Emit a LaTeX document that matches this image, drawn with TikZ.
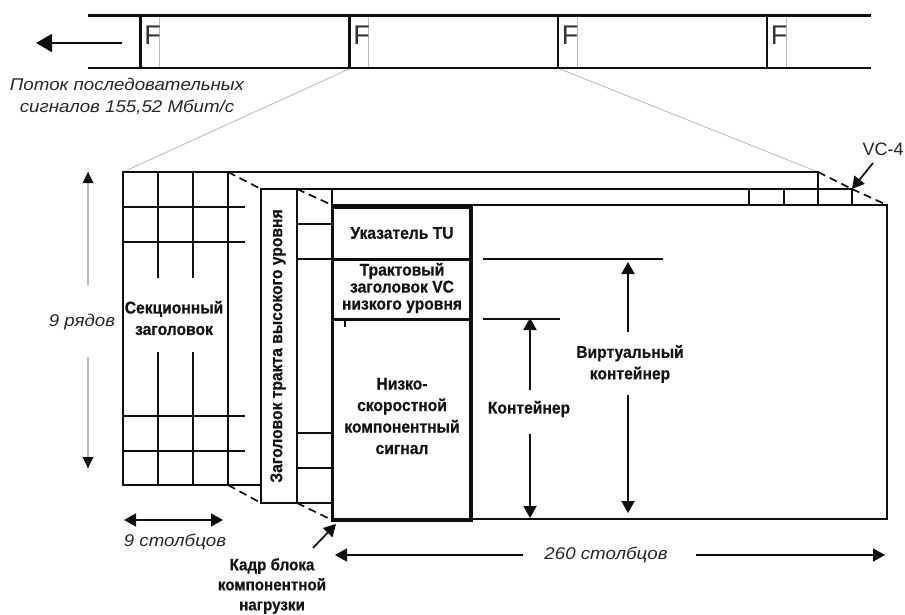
\documentclass[tikz,border=0pt]{standalone}
\usepackage{fontspec}
\setmainfont{Liberation Sans}
\newfontfamily\narrowbold[FakeStretch=0.92,BoldFeatures={FakeBold=0.6}]{Liberation Sans}
\newfontfamily\wideital[FakeStretch=1.1]{Liberation Sans}
\usetikzlibrary{arrows.meta}
\tikzset{
 ink/.style={draw=black!94,line cap=butt},
 bar/.style={ink,line width=2.8pt},
 heavy/.style={ink,line width=3.8pt},
 mid/.style={ink,line width=2.2pt},
 pale/.style={draw=black!28,line width=.8pt},
 dashline/.style={ink,line width=1.7pt,dash pattern=on 8pt off 5pt},
 tick/.style={ink,line width=1.6pt},
 one/.style={ink,line width=1.7pt,-{Triangle[length=12pt,width=13pt]}},
 dbl/.style={ink,line width=1.7pt,{Triangle[length=12pt,width=13pt]}-{Triangle[length=12pt,width=13pt]}},
 lab/.style={font=\narrowbold\fontsize{17}{21.5}\selectfont\bfseries,align=center,inner sep=0pt,text=black!92},
 ital/.style={font=\wideital\fontsize{17}{22}\selectfont\itshape,align=center,inner sep=0pt,text=black!85},
 letter/.style={font=\fontsize{27}{27}\selectfont,inner sep=0pt,text=black!80},
}
\begin{document}
\begin{tikzpicture}[x=1pt,y=-1pt]
\useasboundingbox (0,0) rectangle (905,615);
% stream
\draw[bar,line width=3.3pt] (88,15.5) -- (871,15.5);
\draw[bar,line width=2.7pt] (88,68) -- (871,68);
\foreach \a/\n in {140.5/a,349.5/b,558/c,767/d}{
  \draw[bar] (\a,15) -- (\a,68);
  \draw[pale] (\a+19,17) -- (\a+19,67);
  \node[letter] (f\n) at (\a+12,35) {F};
}
\coordinate (sa) at (122,43); \coordinate (sb) at (36,43);
\draw[ink,line width=2pt,-{Triangle[length=16pt,width=18pt]}] (sa) -- (sb);
\node[ital] (stream) at (127,96) {Поток последовательных\\сигналов 155,52 Мбит/с};
% zoom lines
\coordinate (p1) at (349,69); \coordinate (q1) at (123,172);
\coordinate (p2) at (560,69); \coordinate (q2) at (818,172);
\draw[pale] (p1) -- (q1); \draw[pale] (p2) -- (q2);
% section layer
\draw[bar] (121.5,172) -- (819,172);
\draw[bar] (123,172) -- (123,486); \draw[bar] (228,172) -- (228,486);
\draw[bar] (121.5,485) -- (262,485);
\foreach \a in {158,193}{
  \draw[mid] (\a,172) -- (\a,278);
  \draw[mid] (\a,352) -- (\a,485);
}
\foreach \b in {207,242,416,451}{\draw[mid] (123,\b) -- (245,\b);}
% HO path layer
\draw[bar] (261,188) -- (261,504); \draw[bar] (297,188) -- (297,503);
\draw[bar] (260,189) -- (853,189);
\draw[bar] (260,503) -- (333,503);
\foreach \b in {224,259,433,468}{\draw[mid] (297,\b) -- (332,\b);}
\draw[bar] (818,172) -- (818,205); \draw[bar] (852,189) -- (852,205);
\foreach \a in {332,749,784}{\draw[mid] (\a,189) -- (\a,205);}
% VC layer
\draw[bar] (332,205) -- (888,205);
\draw[bar] (887,205) -- (887,519) -- (332,519);
\draw[heavy] (331,207) -- (472,207);
\draw[heavy] (331,259.5) -- (472,259.5);
\draw[heavy] (331,319.5) -- (472,319.5);
\draw[heavy] (331,520) -- (472,520);
\draw[heavy] (332.5,205) -- (332.5,521.5);
\draw[heavy] (471,205) -- (471,521.5);
\draw[mid] (345,320) -- (345,327);
\foreach \a/\b/\c/\d in {228/172/261/189,297/189/332/205,228/485/261/503,297/503/332/520,818/172/852/189,852/189/887/205}{
  \draw[dashline] (\a,\b) -- (\c,\d);
}
% rows
\coordinate (ra) at (88,172); \coordinate (rb) at (88,468);
\coordinate (rc) at (88,285); \coordinate (rd) at (88,357);
\draw[draw=black!28,line width=1.4pt] (ra) -- (rc);
\draw[draw=black!28,line width=1.4pt] (rd) -- (rb);
\fill[black!94] (ra) -- (93.5,183) -- (82.5,183) -- cycle;
\fill[black!94] (rb) -- (93.5,457) -- (82.5,457) -- cycle;
\node[ital] (rows) at (82,322) {9 рядов};
% columns
\coordinate (ca) at (124,520); \coordinate (cb) at (223,520);
\draw[dbl] (ca) -- (cb);
\node[ital] (cols) at (175,542) {9 столбцов};
\coordinate (la) at (335,555); \coordinate (lb) at (523,555);
\coordinate (lc) at (696,555); \coordinate (ld) at (885,555);
\draw[one] (lb) -- (la); \draw[one] (lc) -- (ld);
\node[ital] (wide) at (606,555) {260 столбцов};
% levels
\draw[tick] (483,259) -- (663,259);
\draw[tick] (483,319) -- (560,319);
\coordinate (va) at (628,332); \coordinate (vb) at (628,262);
\coordinate (vc) at (628,395); \coordinate (vd) at (628,513);
\draw[one,line width=2pt] (va) -- (vb); \draw[one,line width=2pt] (vc) -- (vd);
\coordinate (ka) at (530,390); \coordinate (kb) at (530,318);
\coordinate (kc) at (530,434); \coordinate (kd) at (530,518);
\draw[one,line width=2pt] (ka) -- (kb); \draw[one,line width=2pt] (kc) -- (kd);
% labels
\node[lab] (sec) at (174,318) {Секционный\\заголовок};
\node[lab,rotate=90] (path) at (278,346) {Заголовок тракта высокого уровня};
\node[lab] (tu) at (402,233) {Указатель TU};
\node[lab,font=\narrowbold\fontsize{17}{17}\selectfont\bfseries] (poh) at (402,288) {Трактовый\\заголовок VC\\низкого уровня};
\node[lab] (sig) at (402,416) {Низко-\\скоростной\\компонентный\\сигнал};
\node[lab] (cont) at (529,409) {Контейнер};
\node[lab] (virt) at (630,364) {Виртуальный\\контейнер};
\node[lab,font=\narrowbold\fontsize{16.5}{20}\selectfont\bfseries] (frame) at (272,586) {Кадр блока\\компонентной\\нагрузки};
\node[font=\fontsize{18}{18}\selectfont,inner sep=0pt,text=black!85] (vc4) at (883,149) {VC-4};
\coordinate (ea) at (313,548); \coordinate (eb) at (336,524);
\draw[one] (ea) -- (eb);
\coordinate (ga) at (873,163); \coordinate (gb) at (852,189);
\draw[one] (ga) -- (gb);
\end{tikzpicture}
\end{document}
